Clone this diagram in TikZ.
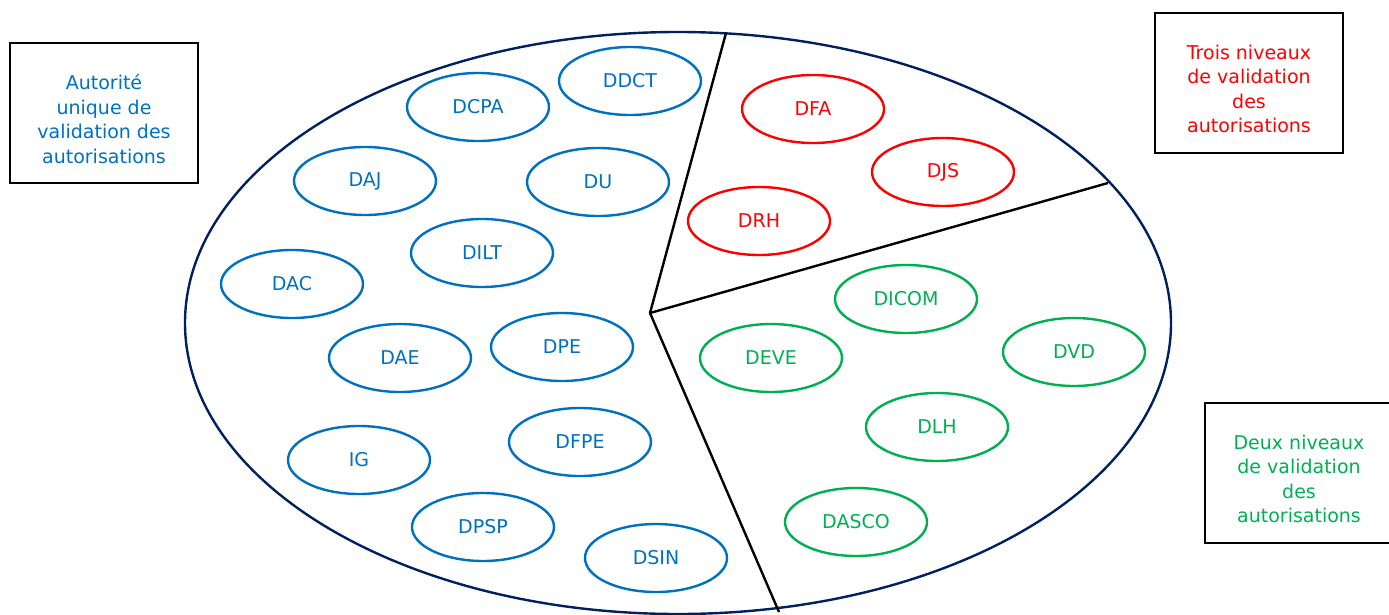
\documentclass[tikz,border=0pt]{standalone}
\usepackage{fontspec}
\setmainfont{DejaVu Sans}
\usetikzlibrary{shapes.geometric}
\definecolor{dirblue}{RGB}{0,112,192}
\definecolor{dirred}{RGB}{255,0,0}
\definecolor{dirgreen}{RGB}{0,176,80}
\definecolor{navy}{RGB}{0,32,96}
\tikzset{
  unit/.style={ellipse, draw, line width=2.4pt, minimum width=142pt, minimum height=68pt,
    inner sep=0pt, font=\fontsize{19}{22}\selectfont},
  ublue/.style={unit, draw=dirblue, text=dirblue},
  ured/.style={unit, draw=dirred, text=dirred},
  ugreen/.style={unit, draw=dirgreen, text=dirgreen},
  legendbox/.style={draw=black, line width=2.4pt, minimum width=188pt, minimum height=140pt,
    inner sep=0pt},
  legendtext/.style={align=center, font=\fontsize{19}{24.5}\selectfont, inner sep=0pt},
  divider/.style={draw=black, line width=2.4pt},
}
\begin{document}
\begin{tikzpicture}[x=1pt, y=-1pt]
\useasboundingbox (0,0) rectangle (1389,615);
% outer oval
\draw[navy, line width=2.4pt] (678,323) ellipse [x radius=493, y radius=291];
% sector dividers
\coordinate (hub) at (650,313);
\coordinate (top) at (726,33);
\coordinate (right) at (1108,183);
\coordinate (bottom) at (779,612);
\draw[divider] (top) -- (hub) -- (bottom);
\draw[divider] (hub) -- (right);
% single-level directorates
\node[ublue] (ddct) at (630,81) {DDCT};
\node[ublue] (dcpa) at (478,107) {DCPA};
\node[ublue] (daj) at (365,181) {DAJ};
\node[ublue] (du) at (598,182) {DU};
\node[ublue] (dilt) at (482,253) {DILT};
\node[ublue] (dac) at (292,284) {DAC};
\node[ublue] (dpe) at (562,347) {DPE};
\node[ublue] (dae) at (400,358) {DAE};
\node[ublue] (dfpe) at (580,442) {DFPE};
\node[ublue] (ig) at (359,460) {IG};
\node[ublue] (dpsp) at (483,527) {DPSP};
\node[ublue] (dsin) at (656,558) {DSIN};
% three-level directorates
\node[ured] (dfa) at (813,109) {DFA};
\node[ured] (djs) at (943,172) {DJS};
\node[ured] (drh) at (759,221) {DRH};
% two-level directorates
\node[ugreen] (dicom) at (906,299) {DICOM};
\node[ugreen] (dvd) at (1074,352) {DVD};
\node[ugreen] (deve) at (771,358) {DEVE};
\node[ugreen] (dlh) at (937,427) {DLH};
\node[ugreen] (dasco) at (856,522) {DASCO};
% legends
\node[legendbox] (lsingle) at (104,113) {};
\node[legendtext, text=dirblue] (lsingletxt) at (104,119) {Autorité\\unique de\\validation des\\autorisations};
\node[legendbox] (lthree) at (1249,83) {};
\node[legendtext, text=dirred] (lthreetxt) at (1249,89) {Trois niveaux\\de validation\\des\\autorisations};
\node[legendbox] (ltwo) at (1299,473) {};
\node[legendtext, text=dirgreen] (ltwotxt) at (1299,479) {Deux niveaux\\de validation\\des\\autorisations};
\end{tikzpicture}
\end{document}
